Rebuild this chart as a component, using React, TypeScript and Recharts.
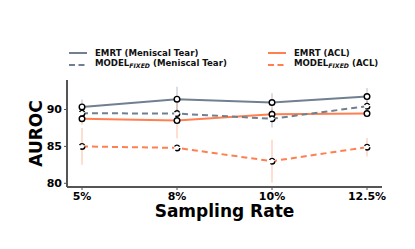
import React from 'react';
import { LineChart, Line, XAxis, YAxis, ErrorBar, Legend } from 'recharts';

const categories = ['5%', '8%', '10%', '12.5%'];
const emrtMeniscal = [90.35, 91.4, 90.95, 91.75];
const emrtMeniscalErr = [1.0, 1.7, 1.25, 1.15];
const modelMeniscal = [89.5, 89.45, 88.75, 90.45];
const modelMeniscalErr = [0.6, 0.6, 1.2, 0.8];
const emrtAcl = [88.75, 88.5, 89.35, 89.45];
const emrtAclErr = [0.8, 2.4, 0.8, 0.5];
const modelAcl = [85.0, 84.8, 83.0, 84.9];
const modelAclErr = [2.5, 0.4, 2.9, 1.25];
const yTicks = [80, 85, 90];

const GRAY = '#708090';
const ORANGE = '#ff7f50';
const FONT = '"DejaVu Sans", sans-serif';

const data = categories.map((c, i) => ({
  cat: c,
  emrtM: emrtMeniscal[i],
  emrtMErr: emrtMeniscalErr[i],
  modelM: modelMeniscal[i],
  modelMErr: modelMeniscalErr[i],
  emrtA: emrtAcl[i],
  emrtAErr: emrtAclErr[i],
  modelA: modelAcl[i],
  modelAErr: modelAclErr[i],
}));

const Fixed = () => (
  <span style={{ fontStyle: 'italic', fontSize: '0.72em', verticalAlign: '-0.3em' }}>FIXED</span>
);

const legendItems = [
  { color: GRAY, dashed: false, label: <>EMRT (Meniscal Tear)</> },
  { color: ORANGE, dashed: false, label: <>EMRT (ACL)</> },
  { color: GRAY, dashed: true, label: <>MODEL<Fixed /> (Meniscal Tear)</> },
  { color: ORANGE, dashed: true, label: <>MODEL<Fixed /> (ACL)</> },
];

const renderLegend = () => (
  <div
    style={{
      display: 'grid',
      gridTemplateColumns: '199px 140px',
      paddingLeft: 69,
      fontFamily: FONT,
      fontWeight: 'bold',
      fontSize: 8.6,
      lineHeight: '12.3px',
      color: '#111',
    }}
  >
    {legendItems.map((it, i) => (
      <div key={i} style={{ display: 'flex', alignItems: 'center', height: 12.3, whiteSpace: 'nowrap' }}>
        <svg width={18} height={6} style={{ marginRight: 8 }}>
          <line
            x1={0}
            y1={3}
            x2={18}
            y2={3}
            stroke={it.color}
            strokeWidth={2}
            strokeDasharray={it.dashed ? '6 3.5' : undefined}
          />
        </svg>
        <span>{it.label}</span>
      </div>
    ))}
  </div>
);

const dot = { r: 2.8, fill: '#fff', stroke: '#000', strokeWidth: 1.4 };
const tickStyle = { fontFamily: FONT, fontWeight: 'bold', fontSize: 11, fill: '#000' };

export default function App() {
  return (
    <div style={{ position: 'absolute', left: 0, top: 0, background: '#fff' }}>
      <LineChart
        width={415}
        height={249}
        data={data}
        margin={{ top: 80, right: 33, bottom: 32, left: 0 }}
      >
        <XAxis
          dataKey="cat"
          padding={{ left: 15, right: 15 }}
          axisLine={{ stroke: '#555', strokeWidth: 2 }}
          tickLine={{ stroke: '#555' }}
          tickSize={3}
          tickMargin={2}
          tick={tickStyle}
          height={30}
          label={{
            value: 'Sampling Rate',
            position: 'insideBottom',
            offset: 0,
            style: { fontFamily: FONT, fontWeight: 'bold', fontSize: 17, fill: '#000' },
          }}
        />
        <YAxis
          type="number"
          domain={[79.5, 94]}
          ticks={yTicks}
          width={67}
          axisLine={{ stroke: '#555', strokeWidth: 2 }}
          tickLine={{ stroke: '#555' }}
          tickSize={3}
          tickMargin={2}
          tick={tickStyle}
          label={{
            content: () => (
              <text
                x={36}
                y={133.5}
                transform="rotate(-90 36 133.5)"
                textAnchor="middle"
                dominantBaseline="central"
                style={{ fontFamily: FONT, fontWeight: 'bold', fontSize: 17, fill: '#000' }}
              >
                AUROC
              </text>
            ),
          }}
        />
        <Legend
          layout="horizontal"
          verticalAlign="middle"
          align="center"
          wrapperStyle={{ top: 46.5, left: 0, width: 415 }}
          content={renderLegend}
        />
        <Line
          dataKey="modelA"
          stroke={ORANGE}
          strokeWidth={2}
          strokeDasharray="6 4"
          dot={dot}
          isAnimationActive={false}
        >
          <ErrorBar dataKey="modelAErr" width={0} stroke={ORANGE} strokeOpacity={0.35} strokeWidth={1.5} direction="y" />
        </Line>
        <Line dataKey="emrtA" stroke={ORANGE} strokeWidth={2} dot={dot} isAnimationActive={false}>
          <ErrorBar dataKey="emrtAErr" width={0} stroke={ORANGE} strokeOpacity={0.35} strokeWidth={1.5} direction="y" />
        </Line>
        <Line
          dataKey="modelM"
          stroke={GRAY}
          strokeWidth={2}
          strokeDasharray="6 4"
          dot={dot}
          isAnimationActive={false}
        >
          <ErrorBar dataKey="modelMErr" width={0} stroke={GRAY} strokeOpacity={0.35} strokeWidth={1.5} direction="y" />
        </Line>
        <Line dataKey="emrtM" stroke={GRAY} strokeWidth={2} dot={dot} isAnimationActive={false}>
          <ErrorBar dataKey="emrtMErr" width={0} stroke={GRAY} strokeOpacity={0.35} strokeWidth={1.5} direction="y" />
        </Line>
      </LineChart>
    </div>
  );
}
